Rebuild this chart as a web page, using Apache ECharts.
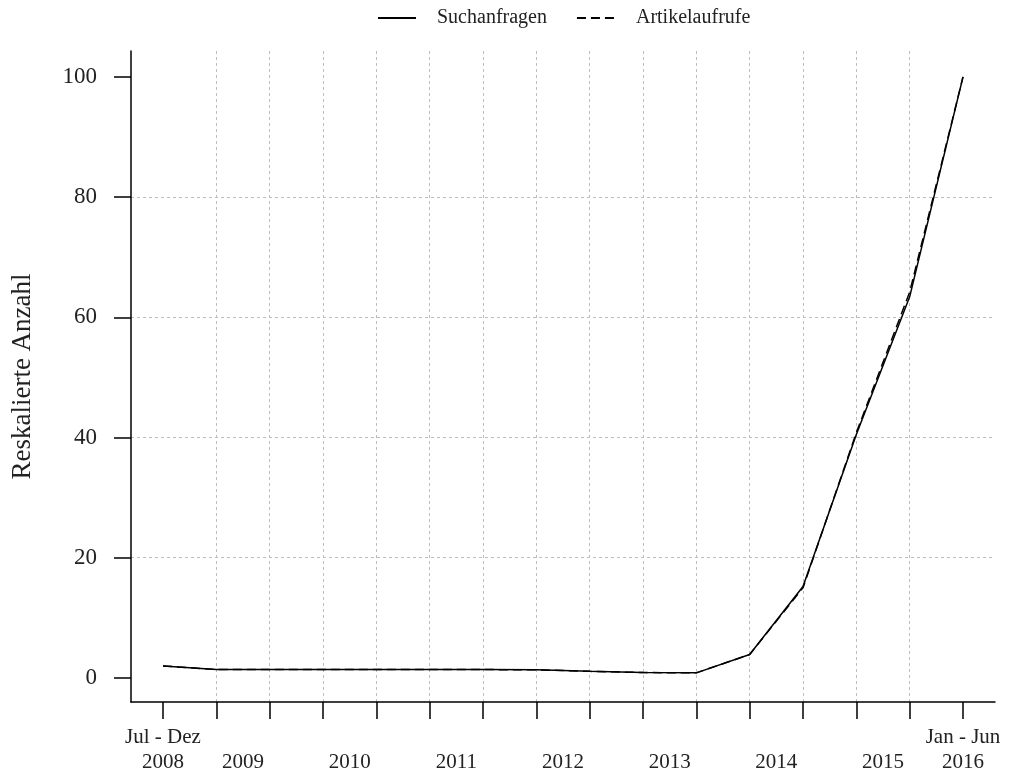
<!DOCTYPE html>
<html>
<head>
    <meta charset="utf-8">
    <title>Reskalierte Anzahl</title>
    <style type="text/css">
        html, body {
            margin: 0;
            padding: 0;
            width: 100%;
            height: 100%;
            background: #fff;
        }
        #main {
            width: 1010px;
            height: 777px;
        }
    </style>
</head>
<body>
    <div id="main"></div>
    <script src="https://cdn.jsdelivr.net/npm/echarts/dist/echarts.min.js"></script>
    <script>
        // Halbjahre, Jul - Dez 2008 bis Jan - Jun 2016
        var halbjahre = ['Jul - Dez 2008', 'Jan - Jun 2009', 'Jul - Dez 2009', 'Jan - Jun 2010',
            'Jul - Dez 2010', 'Jan - Jun 2011', 'Jul - Dez 2011', 'Jan - Jun 2012',
            'Jul - Dez 2012', 'Jan - Jun 2013', 'Jul - Dez 2013', 'Jan - Jun 2014',
            'Jul - Dez 2014', 'Jan - Jun 2015', 'Jul - Dez 2015', 'Jan - Jun 2016'];
        var suchanfragen = [2.0, 1.4, 1.4, 1.4, 1.4, 1.4, 1.4, 1.35, 1.1, 0.9, 0.85, 3.9, 15.2, 40.5, 63.4, 100];
        var artikelaufrufe = [2.0, 1.4, 1.4, 1.4, 1.4, 1.4, 1.4, 1.35, 1.1, 0.9, 0.85, 3.9, 15.0, 40.8, 64.2, 100];

        // x-Achse: Beschriftung (Position in Halbjahren ab 0)
        var labelPos = [0, 1.5, 3.5, 5.5, 7.5, 9.5, 11.5, 13.5, 15];
        var labelText = ['Jul - Dez\n2008', '2009', '2010', '2011', '2012', '2013', '2014', '2015', 'Jan - Jun\n2016'];
        var yTicks = [0, 20, 40, 60, 80, 100];

        var serif = '"Liberation Serif", "DejaVu Serif", serif';

        function toPoints(arr) {
            return arr.map(function (v, i) { return [i, v]; });
        }
        var xTicks = halbjahre.map(function (h, i) { return i; });

        var myChart = echarts.init(document.getElementById('main'));
        var option = {
            animation: false,
            backgroundColor: '#fff',
            legend: {
                left: 377,
                top: 8,
                padding: 0,
                itemWidth: 38,
                itemHeight: 20,
                itemGap: 29,
                itemStyle: { opacity: 0, borderWidth: 0 },
                textStyle: {
                    fontFamily: serif,
                    fontSize: 20,
                    color: '#222',
                    padding: [0, 0, 0, 16]
                },
                data: ['Suchanfragen', 'Artikelaufrufe']
            },
            grid: {
                left: 131,
                right: 15,
                top: 51,
                bottom: 75
            },
            xAxis: {
                type: 'value',
                min: -0.6,
                max: 15.6,
                splitNumber: 16,
                axisLine: { onZero: false, lineStyle: { color: '#000', width: 1.5 } },
                axisTick: { customValues: xTicks, length: 17, lineStyle: { color: '#000', width: 1.5 } },
                axisLabel: {
                    customValues: labelPos,
                    margin: 23,
                    fontFamily: serif,
                    fontSize: 21,
                    lineHeight: 25,
                    color: '#222',
                    formatter: function (v) {
                        for (var i = 0; i < labelPos.length; i++) {
                            if (Math.abs(labelPos[i] - v) < 1e-6) {
                                var t = labelText[i];
                                return t.indexOf('\n') >= 0 ? t : '\n' + t;
                            }
                        }
                        return '';
                    }
                },
                splitLine: {
                    show: true,
                    showMinLine: false,
                    showMaxLine: false,
                    lineStyle: { color: '#bdbdbd', width: 1, type: [3, 3] }
                }
            },
            yAxis: {
                type: 'value',
                min: -4,
                max: 104.3,
                splitNumber: 5,
                name: 'Reskalierte Anzahl',
                nameLocation: 'middle',
                nameGap: 95,
                nameTextStyle: { fontFamily: serif, fontSize: 27, color: '#222' },
                axisLine: { show: true, onZero: false, lineStyle: { color: '#000', width: 1.5 } },
                axisTick: { show: true, customValues: yTicks, length: 17, lineStyle: { color: '#000', width: 1.5 } },
                axisLabel: {
                    customValues: yTicks,
                    margin: 34,
                    fontFamily: serif,
                    fontSize: 23,
                    color: '#222'
                },
                splitLine: {
                    show: true,
                    showMinLine: false,
                    showMaxLine: false,
                    lineStyle: { color: '#bdbdbd', width: 1, type: [3, 3] }
                }
            },
            series: [
                {
                    name: 'Suchanfragen',
                    type: 'line',
                    symbol: 'none',
                    data: toPoints(suchanfragen),
                    lineStyle: { color: '#000', width: 1.5 },
                    itemStyle: { color: '#000' }
                },
                {
                    name: 'Artikelaufrufe',
                    type: 'line',
                    symbol: 'none',
                    data: toPoints(artikelaufrufe),
                    lineStyle: { color: '#000', width: 1.5, type: [9, 5] },
                    itemStyle: { color: '#000' }
                }
            ]
        };
        myChart.setOption(option);
    </script>
</body>
</html>
